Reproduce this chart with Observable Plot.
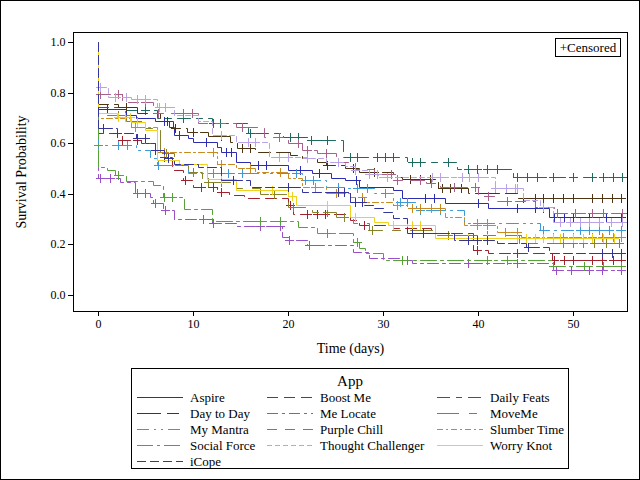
<!DOCTYPE html>
<html>
<head>
<meta charset="utf-8">
<script src="https://cdn.jsdelivr.net/npm/d3@7"></script>
<script src="https://cdn.jsdelivr.net/npm/@observablehq/plot@0.6"></script>
<style>
  html, body { margin: 0; padding: 0; background: #fff; }
  #wrap { position: relative; width: 640px; height: 480px; overflow: hidden; font-family: "Liberation Serif", "Times New Roman", serif; }
  #chart { position: absolute; left: 0; top: 0; }
  #chart svg text { font-family: "Liberation Serif", "Times New Roman", serif; }
  #border { position: absolute; left: 0; top: 0; width: 640px; height: 480px; box-sizing: border-box; border: 1px solid #000; pointer-events: none; }
  #legend { position: absolute; left: 0; top: 0; pointer-events: none; }
  #cens { position: absolute; left: 555px; top: 38px; width: 66px; height: 19px; box-sizing: border-box; border: 1px solid #000; font-size: 13px; line-height: 17px; text-align: center; background: #fff; }
  #chart [aria-label="x-axis label"], #chart [aria-label="y-axis label"] { font-size: 14px; }
</style>
</head>
<body>
<div id="wrap">
  <div id="chart"></div>
  <svg id="legend" width="640" height="480"></svg>
  <div id="cens">+Censored</div>
  <div id="border"></div>
</div>
<script>
const apps = ["Aspire","Boost Me","Daily Feats","Day to Day","Me Locate","MoveMe","My Mantra","Purple Chill","Slumber Time","Social Force","Thought Challenger","Worry Knot","iCope"];
const colors = ["#2C2CB2","#A0222E","#1E6A5E","#4E3412","#9A4FC8","#85842A","#3A9AD9","#A8608A","#C8891E","#56A238","#B9A2E8","#F0D21E","#34349E"];
const dashes = ["none","11,6","13,6,6,6","24,6,12,6","11,4,3,4","22,10,8,10","12,5,2,5,2,5","10,8","6,3,2,3","16,4,3,4","5,3","none","9,4"];
const xTicks = [0,10,20,30,40,50];
const yTicks = [0,0.2,0.4,0.6,0.8,1.0];

// [time, survival after drop]
const aspireSteps = [[0,1],[0,0.735],[3,0.713],[4,0.70],[6,0.69],[7.5,0.665],[8,0.633],[9.5,0.62],[10,0.605],[12.5,0.586],[13,0.566],[14.5,0.527],[16,0.515],[20,0.495],[22.5,0.483],[24.5,0.463],[26,0.455],[27.5,0.428],[31,0.415],[32,0.384],[36.5,0.364],[41,0.344],[47.5,0.309]];
const aspireCensor = [1.0,7.0,8.5,11.4,13.5,14,16.8,17.7,21.3,23.3,27.2,34.4,35.4,40,44.1,46,46.8,48,49,50,51.7,53.5,55];

const boostSteps = [[0,1],[0,0.64],[2.5,0.614],[4.5,0.60],[6,0.574],[7,0.547],[7.8,0.495],[9,0.455],[10,0.428],[12.5,0.408],[13.8,0.396],[15.4,0.384],[20,0.356],[20.5,0.32],[26.5,0.297],[27.5,0.277],[31,0.265],[35,0.245],[39.5,0.178],[41,0.166],[47.8,0.138]];
const boostCensor = [2.5,4.1,7,9.2,10.8,12.1,13,20.2,22,23,23.9,28,33,39.9,44.1,48,49.1,50,52,53,54.2,55];

const dailySteps = [[0,1],[0,0.745],[3,0.73],[6.2,0.70],[12,0.68],[15.8,0.64],[19.5,0.625],[22,0.615],[25.8,0.547],[32.5,0.527],[37.8,0.50],[43.7,0.467]];
const dailyCensor = [4.9,8.9,12.1,12.8,16,20.2,21,22.4,24.1,26.5,27.3,29.4,30.2,31,33,33.9,36.8,38.9,39.9,40.9,42,44.1,45.2,46.2,47.9,50,52,53.2,54.2,55.2];

const daySteps = [[0,1],[0,0.755],[2.1,0.745],[4.1,0.72],[6.5,0.69],[7.9,0.66],[9.4,0.645],[11.6,0.627],[13.9,0.605],[14.6,0.58],[16.5,0.566],[20.2,0.553],[21.5,0.543],[23,0.527],[24,0.515],[26,0.503],[27.5,0.487],[31,0.467],[32,0.459],[35.8,0.423],[38.9,0.403],[44.1,0.384]];
const dayCensor = [3,7.3,8.1,10,13,15.2,16,24.1,26.8,29.1,32.8,33.9,34.9,36.2,37,38.2,44.7,46,46.8,47.9,48.9,50,52,53,54.1,55];

const meLocateSteps = [[0,1],[0,0.463],[2.3,0.447],[3.9,0.403],[5.5,0.388],[5.8,0.364],[6.8,0.337],[8,0.30],[12,0.285],[14.5,0.273],[19.4,0.23],[20,0.218],[22,0.198],[26.8,0.17],[28.5,0.146],[32,0.138],[33,0.127],[47.9,0.099]];
const meLocateCensor = [0.2,1.3,4.1,4.9,6,7.1,11.1,12.1,17,19.2,20.1,22.2,32.5,38.9,44.1,48.2,49.8,51.7,53,55];

const moveSteps = [[0,1],[0,0.71],[3,0.69],[5,0.66],[6.5,0.56],[8,0.515],[9.5,0.487],[11,0.447],[14.5,0.423],[17,0.40],[20,0.35],[22.5,0.33],[25,0.31],[26.8,0.285],[28.5,0.257],[35.5,0.237],[44.3,0.206]];
const moveCensor = [2.1,2.8,4.1,7.2,10,11.6,13,18.5,20.5,24.1,25.9,28.8,36.8,40.9,44.1,48.9,50,51,52.2,53.5,54.8];

const mantraSteps = [[0,1],[0,0.594],[4,0.574],[5.5,0.543],[6.2,0.515],[9.5,0.483],[21.5,0.455],[24,0.428],[26,0.423],[29,0.403],[31,0.368],[33.5,0.337],[38.5,0.285],[46.5,0.257]];
const mantraCensor = [0,2.1,3.1,6.3,12.1,13.7,15.2,20.8,21.8,22.6,25.3,27.3,28.3,30.2,31.8,32.5,33.9,36,39.9,40.9,46.8,50.7,51.7,52.7,53.8,55];

const purpleSteps = [[0,1],[0,0.795],[2.5,0.765],[5.8,0.72],[10.5,0.68],[14.5,0.665],[17.5,0.625],[20,0.60],[21.5,0.574],[23,0.56],[25,0.527],[27,0.50],[29,0.48],[31.5,0.455],[34.5,0.443],[36,0.428],[40,0.39],[42,0.37],[46,0.35],[48,0.325]];
const purpleCensor = [0.2,2.1,4.9,6.3,8.9,9.9,15.2,19,21,22,24,25.3,29.4,30.8,31.5,33.9,35,37.5,39.7,41,43,46.8,48.3,50.2,52,53.2,55.2];

const slumberSteps = [[0,1],[0,0.70],[3.5,0.665],[6.2,0.566],[12.5,0.52],[14.5,0.502],[16.5,0.487],[20,0.463],[21.5,0.428],[24,0.403],[26.5,0.388],[28,0.368],[31,0.356],[32.5,0.344],[36.5,0.31],[38.5,0.277],[42,0.25],[44.5,0.23]];
const slumberCensor = [3.9,6.9,12.1,13,16,19.2,22.8,25,27.8,31.5,33,33.9,35,36,39.9,40.9,42.8,44.1,47.9,48.9,50,52,53,54.2,55];

const socialSteps = [[0,1],[0,0.507],[0.9,0.495],[1.8,0.475],[3,0.451],[5.8,0.435],[6.8,0.388],[9.1,0.34],[12,0.293],[21,0.27],[23,0.245],[26.8,0.21],[27.5,0.186],[28.1,0.166],[30,0.138],[47.9,0.115]];
const socialCensor = [2.1,6.9,7.8,17,19.2,24.1,27.3,32,40.9,43,47.9,51.2,53.2,55];

const thoughtSteps = [[0,1],[0,0.822],[1.1,0.785],[3.5,0.775],[6.2,0.745],[8,0.713],[10.5,0.69],[12,0.633],[14.5,0.605],[18,0.547],[22,0.543],[24,0.527],[26,0.51],[27,0.495],[28.5,0.48],[29.5,0.467],[41.8,0.423],[44.7,0.376],[46.5,0.35],[47.9,0.29]];
const thoughtCensor = [0.2,1.8,3,4.1,4.9,6.4,7.1,13,15.8,16.5,19,20,22,25.3,27,28.5,29.4,30.4,35.2,36,38.3,39.1,40,41.8,42.9,43.9,44.1,46.8,48.6,49.7,50.7,51.7,52.7,54,55.2];

const worrySteps = [[0,1],[0,0.72],[2,0.705],[3.5,0.685],[5,0.653],[6.2,0.535],[8.5,0.52],[11.5,0.46],[14.5,0.415],[20,0.39],[20.8,0.357],[26.5,0.31],[29,0.29],[30.5,0.277],[35.5,0.226]];
const worryCensor = [2.1,2.8,3.4,4.1,13,18.3,20.4,24.1,27,31,32.5,33,33.9,38.9,40.9,44.1,45,46,46.8,47.9,48.6,50,51,52,53.2,54.3];

const icopeSteps = [[0,1],[0,0.66],[2,0.64],[4,0.62],[5,0.60],[6,0.575],[7,0.543],[8,0.52],[10.5,0.507],[13,0.455],[16,0.428],[21.5,0.408],[26.5,0.368],[28,0.356],[29,0.344],[30,0.33],[31,0.305],[32.5,0.245],[37.5,0.218],[42,0.206],[45,0.19],[47.5,0.166]];
const icopeCensor = [0.5,2,4.1,4.9,6,7.4,14.2,20,25.3,25.9,27,27.8,33.1,34.2,38.9,39.9,40.9,45.3,53,54.1,55];

const allSteps = [aspireSteps,boostSteps,dailySteps,daySteps,meLocateSteps,moveSteps,mantraSteps,purpleSteps,slumberSteps,socialSteps,thoughtSteps,worrySteps,icopeSteps];
const allCensor = [aspireCensor,boostCensor,dailyCensor,dayCensor,meLocateCensor,moveCensor,mantraCensor,purpleCensor,slumberCensor,socialCensor,thoughtCensor,worryCensor,icopeCensor];

function survAt(steps, t) {
  let s = steps[0][1];
  for (const [ti, si] of steps) if (ti <= t) s = si;
  return s;
}

const marks = [];
apps.forEach((app, i) => {
  const st = allSteps[i];
  const end = d3.max(allCensor[i]);
  const pts = st.map(([t, s]) => ({app, t, s}));
  pts.push({app, t: end, s: st[st.length - 1][1]});
  const cens = allCensor[i].map(t => ({app, t, s: survAt(st, t)}));
  const lineOpts = {x: "t", y: "s", curve: "step-after", stroke: colors[i], strokeWidth: 1};
  if (dashes[i] !== "none") lineOpts.strokeDasharray = dashes[i];
  marks.push(Plot.line(pts, lineOpts));
  marks.push(Plot.dot(cens, {x: "t", y: "s", symbol: "plus", r: 3, stroke: colors[i], strokeWidth: 1}));
});

const chart = Plot.plot({
  width: 640, height: 360,
  marginLeft: 73, marginRight: 13, marginTop: 32, marginBottom: 49,
  style: {fontFamily: "'Liberation Serif', 'Times New Roman', serif", fontSize: "12px", background: "transparent", color: "#000"},
  x: {domain: [-2.63, 55.68], round: true},
  y: {domain: [-0.063, 1.04], round: true},
  marks: [
    Plot.axisX({ticks: xTicks, tickSize: 5, tickPadding: 3, label: "Time (days)", labelArrow: "none", labelAnchor: "center", labelOffset: 41}),
    Plot.axisY({ticks: yTicks, tickSize: 5, tickPadding: 3, tickFormat: d3.format(".1f"), label: "Survival Probability", labelArrow: "none", labelAnchor: "center", labelOffset: 57}),
    ...marks,
    Plot.frame({stroke: "#000"})
  ]
});
document.getElementById("chart").appendChild(chart);

// Legend
const lg = d3.select("#legend");
const boxX = 131.5, boxY = 368.5, boxW = 437, boxH = 100;
lg.append("rect").attr("x", boxX).attr("y", boxY).attr("width", boxW).attr("height", boxH)
  .attr("fill", "#fff").attr("stroke", "#000");
lg.append("text").attr("x", 350).attr("y", 386).attr("text-anchor", "middle")
  .attr("font-family", "'Liberation Serif', serif").attr("font-size", 15).text("App");
const colX = [137, 267, 437];
const rowY = [397, 413, 429, 445, 461];
apps.forEach((app, i) => {
  const c = i % 3, r = Math.floor(i / 3);
  const x0 = colX[c], y0 = rowY[r] + 0.5;
  const ln = lg.append("line").attr("x1", x0).attr("x2", x0 + 46).attr("y1", y0).attr("y2", y0)
    .attr("stroke", colors[i]).attr("stroke-width", 1);
  if (dashes[i] !== "none") ln.attr("stroke-dasharray", dashes[i]);
  lg.append("text").attr("x", x0 + 53).attr("y", y0).attr("dy", "0.35em")
    .attr("font-family", "'Liberation Serif', serif").attr("font-size", 13).text(app);
});
</script>
</body>
</html>
